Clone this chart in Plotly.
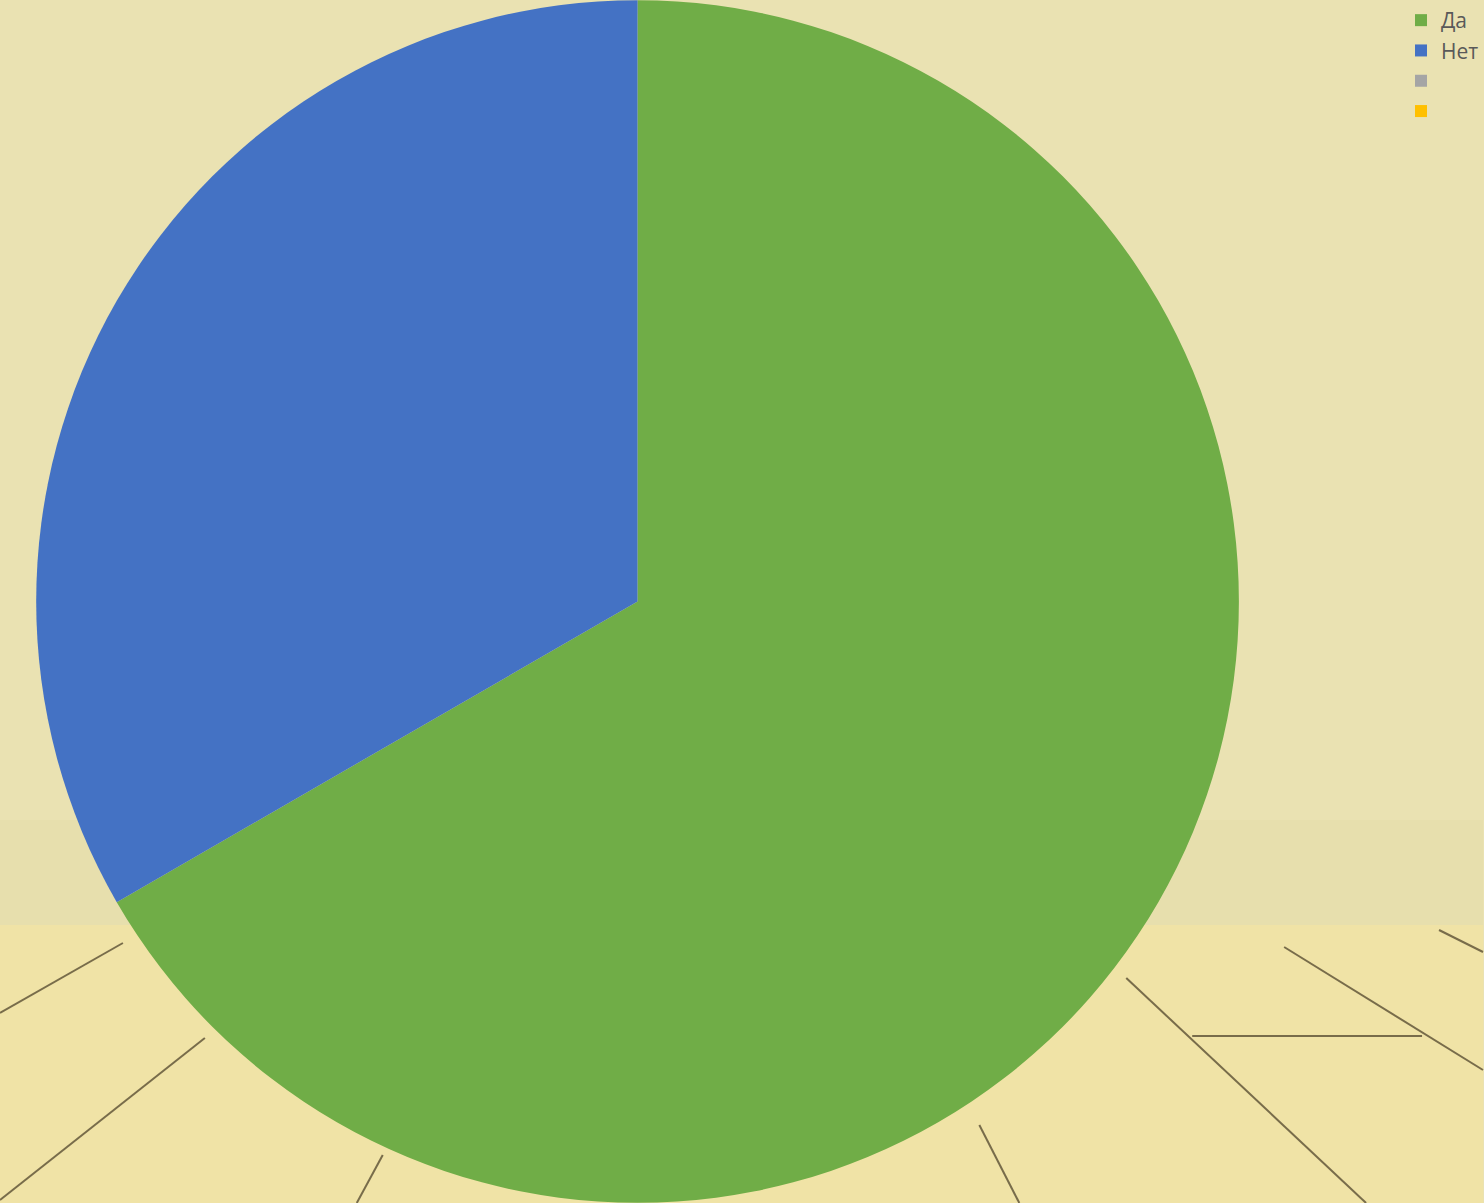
import plotly.graph_objects as go

labels = ["Да", "Нет", " ", "  "]
values = [2, 1, 0, 0]
colors = ["#70AD47", "#4472C4", "#A5A5A5", "#FFC000"]

W, H = 1484, 1203

fig = go.Figure()
fig.add_trace(go.Pie(
    labels=labels,
    values=values,
    marker=dict(colors=colors, line=dict(width=0)),
    sort=False,
    direction="clockwise",
    rotation=0,
    textinfo="none",
    hoverinfo="label+value+percent",
    domain=dict(x=[0.0244, 0.8354], y=[0, 1]),
    showlegend=True,
))

# background decoration: floor region and floor seams (pixel coords -> paper)
def px(x, y):
    return x / W, 1 - y / H

shapes = []
shapes.append(dict(type="rect", xref="paper", yref="paper", x0=0, x1=1,
                   y0=px(0, 925)[1], y1=px(0, 820)[1],
                   fillcolor="rgba(200,185,120,0.08)", line=dict(width=0), layer="below"))
shapes.append(dict(type="rect", xref="paper", yref="paper", x0=0, x1=1, y0=0, y1=1 - 925 / H,
                   fillcolor="#F0E3A6", line=dict(width=0), layer="below"))
seams = [
    ((0, 1013), (123, 943)),
    ((0, 1200), (205, 1038)),
    ((383, 1155), (357, 1203)),
    ((1127, 978), (1367, 1203)),
    ((1285, 947), (1484, 1070)),
    ((1193, 1036), (1423, 1036)),
    ((1440, 930), (1484, 952)),
    ((980, 1125), (1020, 1203)),
]
for (a, b) in seams:
    xa, ya = px(*a)
    xb, yb = px(*b)
    shapes.append(dict(type="line", xref="paper", yref="paper", x0=xa, y0=ya, x1=xb, y1=yb,
                       line=dict(color="rgba(55,45,25,0.65)", width=2),
                       layer="below"))

fig.update_layout(
    width=W, height=H,
    margin=dict(l=0, r=0, t=0, b=0),
    paper_bgcolor="#EAE2B2",
    plot_bgcolor="#EAE2B2",
    shapes=shapes,
    legend=dict(
        x=0.9445, y=1.0, xanchor="left", yanchor="top",
        font=dict(family="Open Sans", size=21, color="#595959"),
        bgcolor="rgba(0,0,0,0)",
        tracegroupgap=0,
    ),
)

fig.write_html(
    "out.html",
    config={"displayModeBar": False},
    post_script="document.body.style.margin='0';document.body.style.overflow='hidden';",
)
